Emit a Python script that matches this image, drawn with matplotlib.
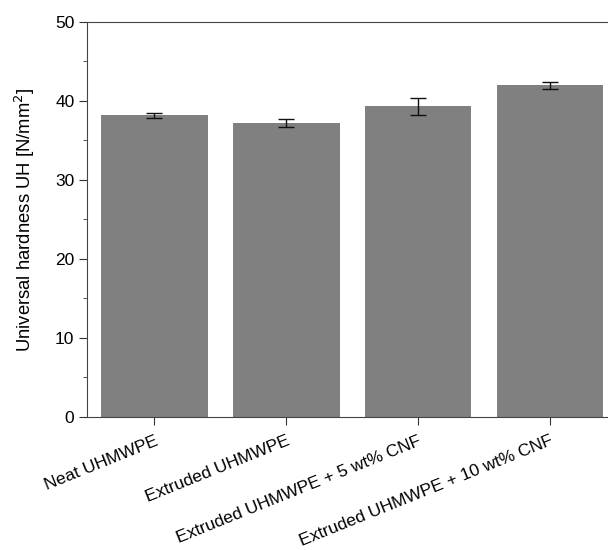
import matplotlib
matplotlib.use('Agg')
from matplotlib import pyplot as plt
from matplotlib.ticker import MultipleLocator

categories = ['Neat UHMWPE', 'Extruded UHMWPE', 'Extruded UHMWPE + 5 wt% CNF',
              'Extruded UHMWPE + 10 wt% CNF']
hardness = [38.2, 37.2, 39.3, 42.0]
errors = [0.3, 0.5, 1.1, 0.45]

plt.rcParams['font.family'] = ['Liberation Sans', 'DejaVu Sans']

fig = plt.figure(figsize=(6.08, 5.5), dpi=100)
ax = fig.add_axes([0.143, 0.2424, 0.857, 0.7176])

x = list(range(len(categories)))
ax.bar(x, hardness, width=0.81, color='#808080', yerr=errors,
       error_kw=dict(ecolor='#111111', elinewidth=1, capsize=6, capthick=1))

ax.set_xlim(-0.51, 3.44)
ax.set_ylim(0, 50)
ax.yaxis.set_major_locator(MultipleLocator(10))
ax.yaxis.set_minor_locator(MultipleLocator(5))
ax.set_xticks(x)
ax.set_xticklabels(categories, rotation=22, ha='right', rotation_mode='anchor', fontsize=12.6)
ax.tick_params(axis='x', pad=6)
ax.tick_params(axis='y', labelsize=12.5, pad=3)
ax.tick_params(which='major', direction='out', length=6, color='#333333')
ax.tick_params(which='minor', direction='out', length=3, color='#333333')
ax.set_ylabel('Universal hardness UH [N/mm$^2$]', fontsize=13.3, labelpad=13)

ax.spines['right'].set_visible(False)
for s in ['left', 'bottom', 'top']:
    ax.spines[s].set_color('#444444')

fig.savefig('out.png', dpi=100)
